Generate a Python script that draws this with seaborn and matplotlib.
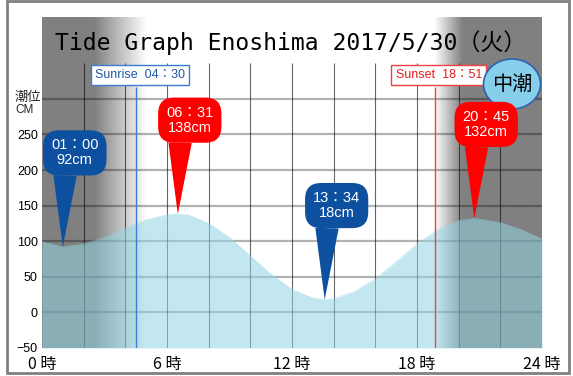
import matplotlib
matplotlib.use('Agg')
from matplotlib import pyplot as plt
from matplotlib.patches import Ellipse, Rectangle
import numpy as np
import pandas as pd
import seaborn as sns

sns.set_theme(style='white')
plt.rcParams['font.family'] = ['Liberation Sans', 'Noto Sans CJK JP']

# tide level (hour, cm)
hours = [0, 1, 2, 3, 4, 5, 6, 6.52, 7, 8, 9, 10, 11, 12, 13, 13.57,
         14, 15, 16, 17, 18, 19, 20, 20.75, 21, 22, 23, 24]
tide_cm = [99, 92, 96, 105, 118, 130, 137, 138, 137, 125, 105, 79, 53, 32, 20, 18,
           19, 29, 47, 71, 96, 116, 129, 132, 131, 126, 116, 103]

event_labels = ['01：00', '06：31', '13：34', '20：45']
event_hours = [1.0, 6.52, 13.57, 20.75]
event_cm = [92, 138, 18, 132]
event_kind = ['low', 'high', 'low', 'high']

y_ticks = [-50, 0, 50, 100, 150, 200, 250]
y_tick_labels = ['−50', '0', '50', '100', '150', '200', '250']
x_ticks = [0, 6, 12, 18, 24]
x_tick_labels = ['0 時', '6 時', '12 時', '18 時', '24 時']

sunrise_h = 4.5
sunset_h = 18 + 51 / 60
sunrise_label = 'Sunrise  04：30'
sunset_label = 'Sunset  18：51'
tide_name = '中潮'
title = 'Tide Graph Enoshima 2017/5/30（火）'

W, H = 573, 376
YMAX = 415
fig = plt.figure(figsize=(W / 100, H / 100), dpi=100)
ax = fig.add_axes([42 / W, 28 / H, 500 / W, 331 / H])
ppu = 331 / (YMAX + 50)


def py(px):
    # pixel row (from top) -> data y
    return (348 - px) / ppu - 50


# night shading
cols = np.linspace(0, 24, 960)
day = np.clip(np.minimum((cols - 2.5) / 2.5, (20.2 - cols) / 1.35), 0, 1)
shade = (128 + 127 * day) / 255
img = np.repeat(shade[None, :, None], 3, axis=2)
ax.imshow(img, extent=[0, 24, -50, YMAX], aspect='auto', interpolation='bilinear', zorder=0)

# grid
ax.vlines(np.arange(2, 24, 2), -50, 350, colors='black', alpha=0.6, lw=0.8, zorder=1)
ax.hlines(np.arange(0, 301, 50), 0, 24, colors='black', alpha=0.3, lw=1.6, zorder=1)

# water
df = pd.DataFrame({'hour': hours, 'cm': tide_cm})
ax.fill_between(df['hour'], -50, df['cm'], color='#92d5e4', alpha=0.55, lw=0, zorder=2)
sns.lineplot(data=df, x='hour', y='cm', ax=ax, color='#92d5e4', alpha=0.55, lw=0.6, zorder=2)

# sunrise / sunset
for h, lab, lc, tc in [(sunrise_h, sunrise_label, '#3a7bd5', '#2156a5'),
                       (sunset_h, sunset_label, '#f04040', '#e02020')]:
    ax.vlines(h, -50, py(87), color=lc, lw=1, zorder=3)
    ax.text(h + 0.2, py(75), lab, ha='center', va='center', color=tc, fontsize=9,
            zorder=4, bbox=dict(boxstyle='square,pad=0.35', fc='white', ec=lc, lw=1))

# tide name badge
ax.add_patch(Ellipse((5.12, 2.92), 0.57, 0.50, transform=fig.dpi_scale_trans,
                     fc='#87ceeb', ec='#2a62b0', lw=1.2, zorder=5))
ax.text(5.12, 2.92, tide_name, transform=fig.dpi_scale_trans, ha='center', va='center',
        fontsize=14.5, family='Noto Sans CJK JP', color='black', zorder=5.5)

# high / low balloons
for lab, h, cm, kind in zip(event_labels, event_hours, event_cm, event_kind):
    c = '#ff0000' if kind == 'high' else '#0d50a0'
    ax.annotate(f'{lab}\n{cm}cm', xy=(h, cm), xytext=(8.6, 67.7), textcoords='offset points',
                ha='center', va='center', color='white', fontsize=10.5, linespacing=1.1,
                bbox=dict(boxstyle='round,pad=0.55,rounding_size=1.1', fc=c, ec='none'),
                arrowprops=dict(arrowstyle='wedge,tail_width=1.6,shrink_factor=0.5', fc=c,
                                ec='none', relpos=(0.3, 0.0), shrinkA=0, shrinkB=0),
                zorder=6)

ax.set_xlim(0, 24)
ax.set_ylim(-50, YMAX)
ax.set_xlabel('')
ax.set_ylabel('')
ax.set_xticks(x_ticks, x_tick_labels, fontsize=11.5, family='Noto Sans CJK JP', color='black')
ax.set_yticks(y_ticks, y_tick_labels, fontsize=9, color='black')
ax.tick_params(axis='x', length=0, pad=6)
ax.tick_params(axis='y', length=0, pad=3)
for s in ax.spines.values():
    s.set_visible(False)

fig.text(15 / W, 1 - 97 / H, '潮位', fontsize=9.5, family='Noto Sans CJK JP', va='center')
fig.text(15 / W, 1 - 110 / H, 'CM', fontsize=8.5, va='center')
fig.text(55 / W, 1 - 43 / H, title, fontsize=16.6, family=['DejaVu Sans Mono', 'Noto Sans CJK JP'],
         va='center', ha='left', color='black')

fig.patches.append(Rectangle((7 / W, 3 / H), 562 / W, 372 / H, transform=fig.transFigure,
                             fill=False, ec='#808080', lw=2))

fig.savefig('out.png', dpi=100)
